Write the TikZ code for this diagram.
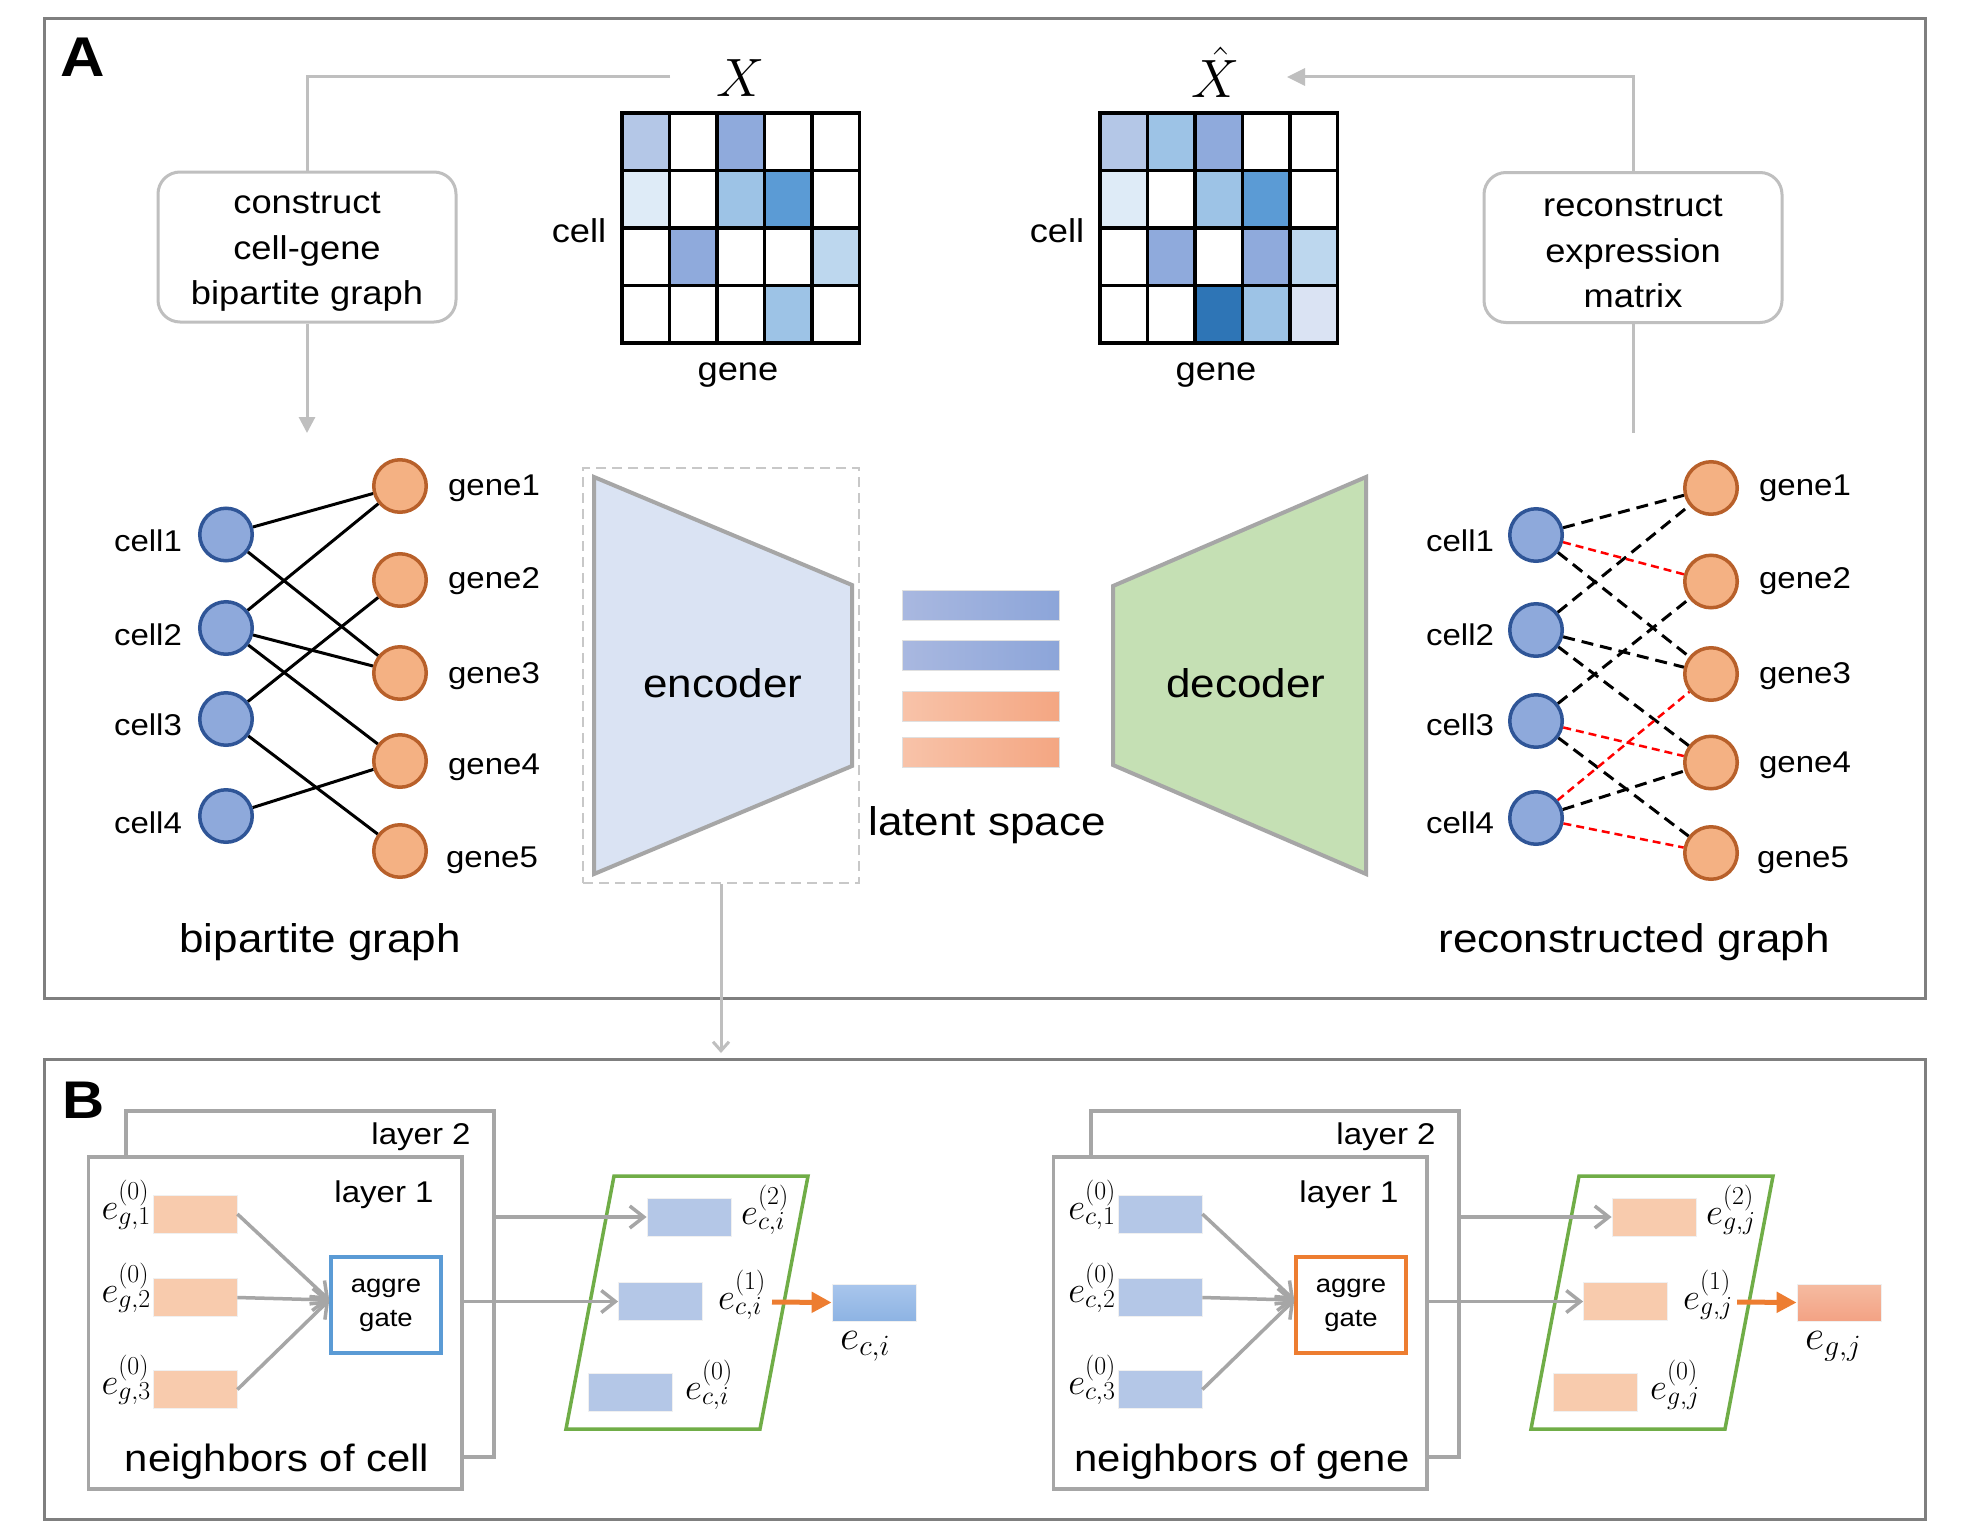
\RequirePackage{fix-cm}
\documentclass[tikz,border=0pt]{standalone}
\usepackage[no-math]{fontspec}
\setmainfont{Liberation Sans}[FakeStretch=1.1]
\usetikzlibrary{arrows.meta}
\definecolor{frameGray}{HTML}{7F7F7F}
\definecolor{connGray}{HTML}{BFBFBF}
\definecolor{boxGray}{HTML}{A6A6A6}
\definecolor{dashGray}{HTML}{C8C8C8}
\definecolor{cellFill}{HTML}{8EA9DB}
\definecolor{cellDraw}{HTML}{2F5597}
\definecolor{geneFill}{HTML}{F4B183}
\definecolor{geneDraw}{HTML}{B8602A}
\definecolor{encFill}{HTML}{DAE3F3}
\definecolor{decFill}{HTML}{C5E0B4}
\definecolor{mA}{HTML}{B4C7E7}
\definecolor{mB}{HTML}{8FAADC}
\definecolor{mC}{HTML}{DEEBF7}
\definecolor{mD}{HTML}{9DC3E6}
\definecolor{mE}{HTML}{5B9BD5}
\definecolor{mF}{HTML}{BDD7EE}
\definecolor{mG}{HTML}{2E75B6}
\definecolor{mH}{HTML}{DAE3F3}
\definecolor{oRect}{HTML}{F8CBAD}
\definecolor{bRect}{HTML}{B4C7E7}
\definecolor{paraGreen}{HTML}{70AD47}
\definecolor{aggBlue}{HTML}{5B9BD5}
\definecolor{aggOrange}{HTML}{ED7D31}
\definecolor{redDash}{HTML}{FF0000}
\definecolor{latBL}{HTML}{A9B8E0}
\definecolor{latBR}{HTML}{8CA5D9}
\definecolor{latOL}{HTML}{F8C3A9}
\definecolor{latOR}{HTML}{F4A682}
\definecolor{outBT}{HTML}{A9C6EC}
\definecolor{outBB}{HTML}{8DB3E3}
\definecolor{outOT}{HTML}{F5BBA1}
\definecolor{outOB}{HTML}{F3A284}
\newcommand\fsz[1]{\fontsize{#1}{#1}\selectfont}
\newcommand\heatmat[3]{%
  \foreach \cc [count=\ii from 0] in {#3} {%
    \pgfmathtruncatemacro\mc{mod(\ii,5)}%
    \pgfmathtruncatemacro\mr{div(\ii,5)}%
    \fill[\cc] ({#1+\mc*47.5},{#2+\mr*57.5}) rectangle ++(47.5,57.5);%
  }%
  \foreach \k in {1,...,4} \draw[line width=3.5pt] ({#1+\k*47.5},#2) -- ++(0,230);%
  \foreach \k in {1,...,3} \draw[line width=3.5pt] (#1,{#2+\k*57.5}) -- ++(237.5,0);%
  \draw[line width=3.5pt] (#1,#2) rectangle ++(237.5,230);%
}
\begin{document}
\begin{tikzpicture}[x=1pt,y=-1pt,
  every node/.style={inner sep=0pt},
  frame/.style={draw=frameGray, line width=3pt},
  conn/.style={draw=connGray, line width=3pt},
  roundbox/.style={draw=connGray, line width=3pt, rounded corners=22pt, minimum width=298pt, minimum height=150pt, fill=white},
  boxtext/.style={align=center, font=\fontsize{33}{45.5}\selectfont},
  cellnode/.style={circle, fill=cellFill, draw=cellDraw, line width=3.5pt, minimum size=52.5pt},
  genenode/.style={circle, fill=geneFill, draw=geneDraw, line width=3.5pt, minimum size=52.5pt},
  lab/.style={anchor=base, font=\fsz{30}},
  edge/.style={line width=3pt, black},
  bdash/.style={line width=3pt, black, dash pattern=on 12pt off 7pt},
  rdash/.style={line width=2.5pt, redDash, dash pattern=on 8pt off 5pt},
  bar/.style={draw=black!12, line width=1pt, minimum width=157.5pt, minimum height=30pt},
  layerbox/.style={draw=boxGray, line width=3.5pt, fill=white},
  orect/.style={fill=oRect, draw=black!6, line width=0.8pt, minimum width=84pt, minimum height=38pt},
  brect/.style={fill=bRect, draw=black!6, line width=0.8pt, minimum width=84pt, minimum height=38pt},
  aggbox/.style={line width=3.5pt, fill=white, minimum width=110pt, minimum height=96pt, align=center, font=\fontsize{25}{34}\selectfont},
  garrow/.style={draw=boxGray, line width=3.5pt, -{Straight Barb[length=14pt,width=22pt]}},
  oarrow/.style={draw=aggOrange, line width=5pt, -{Triangle[length=20pt,width=20pt]}},
  para/.style={draw=paraGreen, line width=3.5pt},
  mlab/.style={font=\fsz{37}},
]
\useasboundingbox (0,0) rectangle (1969,1536);
\fill[white] (0,0) rectangle (1969,1536);

% ---------- frames ----------
\draw[frame] (44,19) rectangle (1925,998);
\draw[frame] (44,1059) rectangle (1925,1519);
\node[font=\fsz{56}\bfseries, anchor=base] (labA) at (83,77) {A};
\node[font=\fsz{53}\bfseries, anchor=base] (labB) at (84,1118) {B};

% ---------- matrices ----------
\heatmat{622}{113}{mA,white,mB,white,white, mC,white,mD,mE,white, white,mB,white,white,mF, white,white,white,mD,white}
\node[minimum width=237.5pt, minimum height=230pt] (Xm) at (740.75,228) {};
\heatmat{1100}{113}{mA,mD,mB,white,white, mC,white,mD,mE,white, white,mB,white,mB,mF, white,white,mG,mD,mH}
\node[minimum width=237.5pt, minimum height=230pt] (XHm) at (1218.75,228) {};
\node[anchor=base, font=\fsz{54}] (Xlab) at (741,97) {$X$};
\node[anchor=base, font=\fsz{54}] (XHlab) at (1216,98) {$\hat{X}$};
\node[anchor=base, font=\fsz{33}] (Xcell) at (579,242) {cell};
\node[anchor=base, font=\fsz{33}] (Xgene) at (738,380) {gene};
\node[anchor=base, font=\fsz{33}] (XHcell) at (1057,242) {cell};
\node[anchor=base, font=\fsz{33}] (XHgene) at (1216,380) {gene};

% ---------- rounded boxes and connectors ----------
\node[roundbox] (construct) at (307,247) {};
\node[boxtext] (constructt) at ([yshift=-5pt]construct.center) {construct\\cell-gene\\bipartite graph};
\node[roundbox] (recon) at (1633,247.5) {};
\node[boxtext] (recont) at ([yshift=-4pt]recon.center) {reconstruct\\expression\\matrix};
\coordinate (xin) at (670,77);
\coordinate (bgarrow) at (307,433);
\coordinate (xhatin) at (1287,77);
\coordinate (rgtop) at (1633,433);
\draw[conn] (xin) -- (construct.north |- xin) -- (construct.north);
\draw[conn, -{Triangle[length=16pt,width=16pt]}] (construct.south) -- (bgarrow);
\draw[conn] (recon.south) -- (rgtop);
\draw[conn, -{Triangle[length=18pt,width=17pt]}] (recon.north) |- (xhatin);

% ---------- left bipartite graph ----------
\node[cellnode] (lc1) at (226,534.5) {};
\node[cellnode] (lc2) at (226,628) {};
\node[cellnode] (lc3) at (226,719) {};
\node[cellnode] (lc4) at (226,816) {};
\node[genenode] (lg1) at (400,486) {};
\node[genenode] (lg2) at (400,580) {};
\node[genenode] (lg3) at (400,673) {};
\node[genenode] (lg4) at (400,761) {};
\node[genenode] (lg5) at (400,851) {};
\foreach \a/\b in {1/1,1/3,2/1,2/3,2/4,3/2,3/5,4/4} \draw[edge] (lc\a) -- (lg\b);
\node[lab] (lc1t) at (148,551) {cell1};
\node[lab] (lc2t) at (148,645) {cell2};
\node[lab] (lc3t) at (148,735) {cell3};
\node[lab] (lc4t) at (148,833) {cell4};
\node[lab] (lg1t) at (494,495) {gene1};
\node[lab] (lg2t) at (494,588) {gene2};
\node[lab] (lg3t) at (494,683) {gene3};
\node[lab] (lg4t) at (494,774) {gene4};
\node[lab] (lg5t) at (492,867) {gene5};
\node[anchor=base, font=\fsz{40}] (bgt) at (320,952) {bipartite graph};

% ---------- right reconstructed graph ----------
\node[cellnode] (rc1) at (1536,535) {};
\node[cellnode] (rc2) at (1536,630) {};
\node[cellnode] (rc3) at (1536,721) {};
\node[cellnode] (rc4) at (1536,818) {};
\node[genenode] (rg1) at (1711,488) {};
\node[genenode] (rg2) at (1711,581.5) {};
\node[genenode] (rg3) at (1711,674) {};
\node[genenode] (rg4) at (1711,762.5) {};
\node[genenode] (rg5) at (1711,853) {};
\foreach \a/\b in {1/1,1/3,2/1,2/3,2/4,3/2,3/5,4/4} \draw[bdash] (rc\a) -- (rg\b);
\foreach \a/\b in {1/2,3/4,4/3,4/5} \draw[rdash] (rc\a) -- (rg\b);
\node[lab] (rc1t) at (1460,551) {cell1};
\node[lab] (rc2t) at (1460,645) {cell2};
\node[lab] (rc3t) at (1460,735) {cell3};
\node[lab] (rc4t) at (1460,833) {cell4};
\node[lab] (rg1t) at (1805,495) {gene1};
\node[lab] (rg2t) at (1805,588) {gene2};
\node[lab] (rg3t) at (1805,683) {gene3};
\node[lab] (rg4t) at (1805,772) {gene4};
\node[lab] (rg5t) at (1803,867) {gene5};
\node[anchor=base, font=\fsz{40}] (rgt) at (1634,952) {reconstructed graph};

% ---------- encoder / latent / decoder ----------
\node[draw=dashGray, line width=2.5pt, dash pattern=on 10pt off 6pt, minimum width=276pt, minimum height=415pt] (encbox) at (721,675.5) {};
\draw[fill=encFill, draw=boxGray, line width=4pt] (594,477) -- (852,585) -- (852,766) -- (594,874) -- cycle;
\draw[fill=decFill, draw=boxGray, line width=4pt] (1113,586) -- (1366,477) -- (1366,874) -- (1113,765) -- cycle;
\node[anchor=base, font=\fsz{40}] (enct) at (723,697) {encoder};
\node[anchor=base, font=\fsz{40}] (dect) at (1246,697) {decoder};
\node[bar, left color=latBL, right color=latBR] (z1) at (981,605) {};
\node[bar, left color=latBL, right color=latBR] (z2) at (981,655.5) {};
\node[bar, left color=latOL, right color=latOR] (z3) at (981,706) {};
\node[bar, left color=latOL, right color=latOR] (z4) at (981,752) {};
\node[anchor=base, font=\fsz{40}] (latt) at (987,835) {latent space};
\coordinate (Btop) at (721,1053);
\draw[conn, -{Straight Barb[length=9pt,width=16pt]}] (encbox.south) -- (Btop);

% ---------- panel B left ----------
\node[layerbox, minimum width=368pt, minimum height=346pt] (LL2) at (310,1284) {};
\node[layerbox, minimum width=373.5pt, minimum height=332pt] (LL1) at (275.25,1323) {};
\node[anchor=base, font=\fsz{30}] (LL2t) at (421,1144) {layer 2};
\node[anchor=base, font=\fsz{30}] (LL1t) at (384,1202) {layer 1};
\node[anchor=base, font=\fsz{38}] (Lnb) at (277,1471) {neighbors of cell};
\node[aggbox, draw=aggBlue] (Lagg) at (386,1305) {aggre\\gate};
\node[orect] (Lin1) at (195,1214) {};
\node[orect] (Lin2) at (195,1297.5) {};
\node[orect] (Lin3) at (195,1389.5) {};
\node[mlab, anchor=base east] (Lin1t) at (151,1219) {$e^{(0)}_{g,1}$};
\node[mlab, anchor=base east] (Lin2t) at (151,1302) {$e^{(0)}_{g,2}$};
\node[mlab, anchor=base east] (Lin3t) at (151,1394) {$e^{(0)}_{g,3}$};
\foreach \k in {1,2,3} \draw[garrow] (Lin\k.east) -- ([yshift=5pt]Lagg.west);
\draw[para] (614,1176) -- (808,1176) -- (760,1429) -- (566,1429) -- cycle;
\node[brect] (Lp2) at (689,1217) {};
\node[brect] (Lp1) at (660.5,1301.5) {};
\node[brect] (Lp0) at (630.5,1392) {};
\node[mlab, anchor=base west] (Lp2t) at (741,1224) {$e^{(2)}_{c,i}$};
\node[mlab, anchor=base west] (Lp1t) at (718,1309) {$e^{(1)}_{c,i}$};
\node[mlab, anchor=base west] (Lp0t) at (685,1399) {$e^{(0)}_{c,i}$};
\draw[garrow] (Lp2.west -| LL2.east) -- (Lp2.west);
\draw[garrow] (Lp1.west -| LL1.east) -- (Lp1.west);
\node[top color=outBT, bottom color=outBB, draw=black!6, line width=0.8pt, minimum width=84pt, minimum height=37pt] (Lout) at (874,1302.5) {};
\coordinate (Lo1) at (772,1302);
\draw[oarrow] (Lo1) -- (Lout.west);
\node[anchor=base west, font=\fsz{42}] (Loutt) at (840,1349) {$e_{c,i}$};

% ---------- panel B right ----------
\begin{scope}[xshift=965pt]
\node[layerbox, minimum width=368pt, minimum height=346pt] (RL2) at (310,1284) {};
\node[layerbox, minimum width=373.5pt, minimum height=332pt] (RL1) at (275.25,1323) {};
\node[anchor=base, font=\fsz{30}] (RL2t) at (421,1144) {layer 2};
\node[anchor=base, font=\fsz{30}] (RL1t) at (384,1202) {layer 1};
\node[anchor=base, font=\fsz{38}] (Rnb) at (277,1471) {neighbors of gene};
\node[aggbox, draw=aggOrange] (Ragg) at (386,1305) {aggre\\gate};
\node[brect] (Rin1) at (195,1214) {};
\node[brect] (Rin2) at (195,1297.5) {};
\node[brect] (Rin3) at (195,1389.5) {};
\node[mlab, anchor=base east] (Rin1t) at (151,1219) {$e^{(0)}_{c,1}$};
\node[mlab, anchor=base east] (Rin2t) at (151,1302) {$e^{(0)}_{c,2}$};
\node[mlab, anchor=base east] (Rin3t) at (151,1394) {$e^{(0)}_{c,3}$};
\foreach \k in {1,2,3} \draw[garrow] (Rin\k.east) -- ([yshift=5pt]Ragg.west);
\draw[para] (614,1176) -- (808,1176) -- (760,1429) -- (566,1429) -- cycle;
\node[orect] (Rp2) at (689,1217) {};
\node[orect] (Rp1) at (660.5,1301.5) {};
\node[orect] (Rp0) at (630.5,1392) {};
\node[mlab, anchor=base west] (Rp2t) at (741,1224) {$e^{(2)}_{g,j}$};
\node[mlab, anchor=base west] (Rp1t) at (718,1309) {$e^{(1)}_{g,j}$};
\node[mlab, anchor=base west] (Rp0t) at (685,1399) {$e^{(0)}_{g,j}$};
\draw[garrow] (Rp2.west -| RL2.east) -- (Rp2.west);
\draw[garrow] (Rp1.west -| RL1.east) -- (Rp1.west);
\node[top color=outOT, bottom color=outOB, draw=black!6, line width=0.8pt, minimum width=84pt, minimum height=37pt] (Rout) at (874,1302.5) {};
\coordinate (Ro1) at (772,1302);
\draw[oarrow] (Ro1) -- (Rout.west);
\node[anchor=base west, font=\fsz{42}] (Routt) at (840,1349) {$e_{g,j}$};
\end{scope}
\end{tikzpicture}
\end{document}
